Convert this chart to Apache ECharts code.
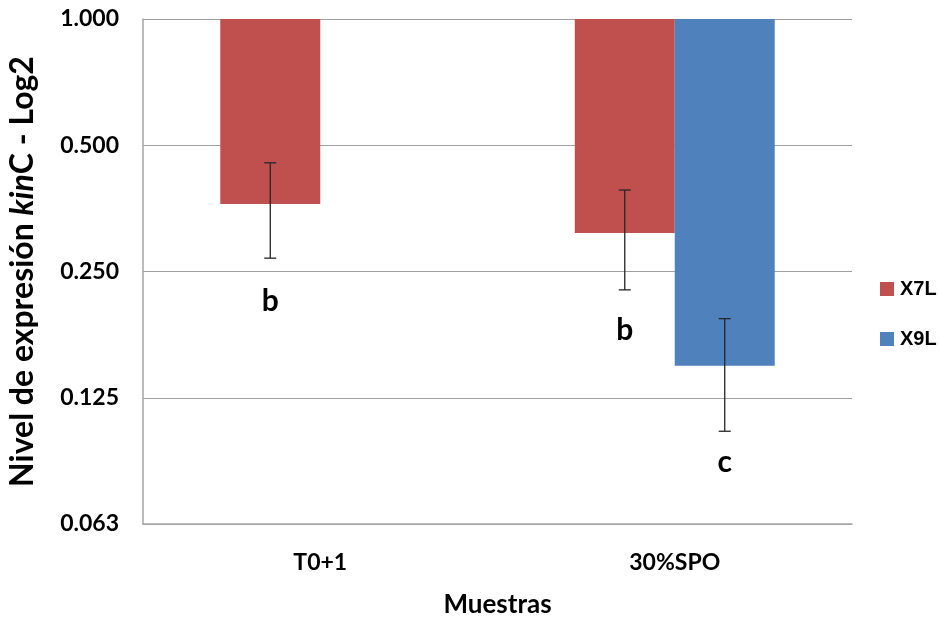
<!DOCTYPE html>
<html>
<head>
<meta charset="utf-8">
<script src="https://cdn.jsdelivr.net/npm/echarts@6/dist/echarts.min.js"></script>
<style>
  html, body { margin: 0; padding: 0; background: #fff; }
  #chart { width: 939px; height: 619px; }
</style>
</head>
<body>
<div id="chart"></div>
<script>
// Relative expression of kinC (log2 scale), with error bars and significance letters
const categories = ['T0+1', '30%SPO'];
const seriesNames = ['X7L', 'X9L'];
const x7lValues = [0.362, 0.309];
const x9lValues = [null, 0.149];
const x7lErrLow = [0.269, 0.226];
const x7lErrHigh = [0.454, 0.391];
const x9lErrLow = [null, 0.104];
const x9lErrHigh = [null, 0.193];
const x7lLetters = ['b', 'b'];
const x9lLetters = ['', 'c'];
const yTicks = [0.0625, 0.125, 0.25, 0.5, 1];

const FONT = 'Lato';
const COLORS = ['#C0504D', '#4F81BD'];

// error-bar rows: [categoryIndex, low, high, barValue, letter, seriesSlot]
const errRows = [];
categories.forEach((c, i) => {
  if (x7lValues[i] != null) errRows.push([i, x7lErrLow[i], x7lErrHigh[i], x7lValues[i], x7lLetters[i], 0]);
  if (x9lValues[i] != null) errRows.push([i, x9lErrLow[i], x9lErrHigh[i], x9lValues[i], x9lLetters[i], 1]);
});

const BAR_CATEGORY_GAP = 0.436;

const chart = echarts.init(document.getElementById('chart'), null, { renderer: 'canvas' });
chart.setOption({
  animation: false,
  textStyle: { fontFamily: FONT },
  grid: { left: 143, right: 87, top: 19, bottom: 95, containLabel: false, outerBoundsMode: 'none' },
  legend: {
    orient: 'vertical',
    left: 875,
    top: 274,
    itemWidth: 14,
    itemHeight: 14,
    itemGap: 30,
    icon: 'rect',
    data: seriesNames,
    textStyle: { fontFamily: 'Liberation Sans', fontWeight: 'bold', fontSize: 20, color: '#000', padding: [0, 0, 0, 1] }
  },
  xAxis: {
    type: 'category',
    data: categories,
    name: 'Muestras',
    nameLocation: 'middle',
    nameGap: 68,
    nameTextStyle: { fontFamily: FONT, fontWeight: 'bold', fontSize: 26, color: '#000' },
    axisLine: { lineStyle: { color: '#A6A6A6', width: 1.5 } },
    axisTick: { show: false },
    axisLabel: { fontFamily: FONT, fontWeight: 'bold', fontSize: 23, color: '#000', margin: 27 }
  },
  yAxis: {
    type: 'log',
    logBase: 2,
    min: yTicks[0],
    max: yTicks[yTicks.length - 1],
    name: '{n|Nivel de expresión }{i|kin}{n|C - Log2}',
    nameLocation: 'middle',
    nameGap: 104,
    nameRotate: 90,
    nameTextStyle: {
      rich: {
        n: { fontFamily: FONT, fontWeight: 'bold', fontSize: 32, color: '#000' },
        i: { fontFamily: FONT, fontWeight: 'bold', fontStyle: 'italic', fontSize: 32, color: '#000' }
      }
    },
    axisLine: { show: true, lineStyle: { color: '#A6A6A6', width: 1.5 } },
    axisTick: { show: false },
    splitLine: { lineStyle: { color: '#A0A0A0', width: 1.2 } },
    axisLabel: {
      fontFamily: FONT, fontWeight: 'bold', fontSize: 23, color: '#000', margin: 24,
      formatter: v => Number(v).toFixed(3)
    }
  },
  series: [
    {
      name: seriesNames[0], type: 'bar', data: x7lValues,
      itemStyle: { color: COLORS[0] },
      barGap: '0%', barCategoryGap: (BAR_CATEGORY_GAP * 100) + '%'
    },
    {
      name: seriesNames[1], type: 'bar', data: x9lValues,
      itemStyle: { color: COLORS[1] },
      barGap: '0%', barCategoryGap: (BAR_CATEGORY_GAP * 100) + '%'
    },
    {
      type: 'custom',
      data: errRows,
      z: 10,
      silent: true,
      renderItem: function (params, api) {
        const cat = api.value(0);
        const slot = api.value(5);
        const catWidth = api.size([1, 0])[0];
        const barW = catWidth * (1 - BAR_CATEGORY_GAP) / 2;
        const cx = api.coord([cat, api.value(3)])[0] + (slot === 0 ? -barW / 2 : barW / 2);
        const yLo = api.coord([cat, api.value(1)])[1];
        const yHi = api.coord([cat, api.value(2)])[1];
        const yBar = api.coord([cat, api.value(3)])[1];
        const cap = 6;
        const stroke = { stroke: '#262626', lineWidth: 1.3 };
        return {
          type: 'group',
          children: [
            { type: 'line', shape: { x1: cx, y1: yLo, x2: cx, y2: yHi }, style: stroke },
            { type: 'line', shape: { x1: cx - cap, y1: yHi, x2: cx + cap, y2: yHi }, style: stroke },
            { type: 'line', shape: { x1: cx - cap, y1: yLo, x2: cx + cap, y2: yLo }, style: stroke },
            {
              type: 'text',
              style: {
                x: cx, y: yBar + 97, text: api.value(4),
                fontFamily: FONT, fontWeight: 'bold', fontSize: 30, fill: '#000',
                align: 'center', verticalAlign: 'middle'
              }
            }
          ]
        };
      }
    }
  ]
});
</script>
</body>
</html>
